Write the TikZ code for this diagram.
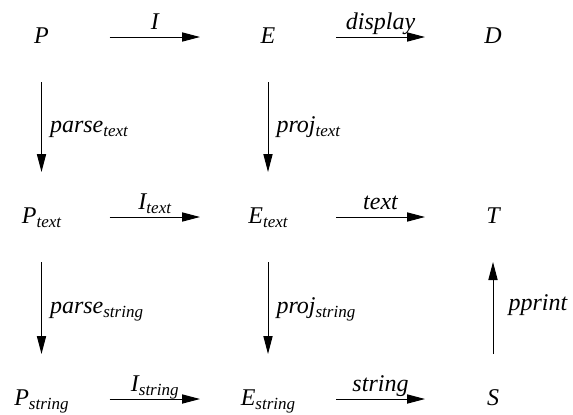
\documentclass[tikz,border=0pt]{standalone}
\usepackage{fontspec}
\setmainfont{Liberation Serif}[ItalicFont={Liberation Serif Italic}]
\usetikzlibrary{arrows.meta}
\newcommand{\subtxt}[1]{\raisebox{-2pt}{\fontsize{8.5}{10}\selectfont #1}}

\begin{document}
\begin{tikzpicture}[
  x=0.5pt, y=-0.5pt,
  font=\rmfamily\fontsize{12}{14}\selectfont\itshape,
  obj/.style={anchor=base, inner sep=0pt, text height=8pt, text depth=2pt},
  harrow/.style={->, line width=0.5pt, shorten <=34pt, shorten >=34pt},
  varrow/.style={->, line width=0.5pt, shorten <=22.5pt, shorten >=22.5pt},
  hlab/.style={midway, anchor=base, inner sep=0pt, yshift=4pt},
  vlab/.style={midway, anchor=base west, inner sep=0pt, xshift=4pt,
               yshift=-2.5pt},
  >={Triangle[length=9pt, width=4.6pt]}
]
\useasboundingbox (0,0) rectangle (573,414);

% ---- Objects ------------------------------------------------------------------
\node[obj] (P) at (41.5,43) {P};
\node[obj] (E) at (268,43) {E};
\node[obj] (D) at (493,43) {D};

\node[obj] (Ptext) at (41.5,223) {P\subtxt{text}};
\node[obj] (Etext) at (268,223) {E\subtxt{text}};
\node[obj] (T) at (493,223) {T};

\node[obj] (Pstring) at (41.5,405) {P\subtxt{string}};
\node[obj] (Estring) at (268,405) {E\subtxt{string}};
\node[obj] (S) at (493,405) {S};

% ---- Horizontal maps ------------------------------------------------------------
\draw[harrow] (P.center) -- node[hlab] {I} (E.center);
\draw[harrow] (E.center) -- node[hlab] {display} (D.center);
\draw[harrow] (Ptext.center) -- node[hlab] {I\subtxt{text}} (Etext.center);
\draw[harrow] (Etext.center) -- node[hlab] {text} (T.center);
\draw[harrow] (Pstring.center) -- node[hlab] {I\subtxt{string}} (Estring.center);
\draw[harrow] (Estring.center) -- node[hlab] {string} (S.center);

% ---- Vertical maps --------------------------------------------------------------
\draw[varrow] (P.center) -- node[vlab] {parse\subtxt{text}} (Ptext.center);
\draw[varrow] (E.center) -- node[vlab] {proj\subtxt{text}} (Etext.center);
\draw[varrow] (Ptext.center) -- node[vlab] {parse\subtxt{string}} (Pstring.center);
\draw[varrow] (Etext.center) -- node[vlab] {proj\subtxt{string}} (Estring.center);
\draw[varrow] (S.center) -- node[vlab, xshift=3.5pt, yshift=1.5pt] {pprint} (T.center);

\end{tikzpicture}
\end{document}
